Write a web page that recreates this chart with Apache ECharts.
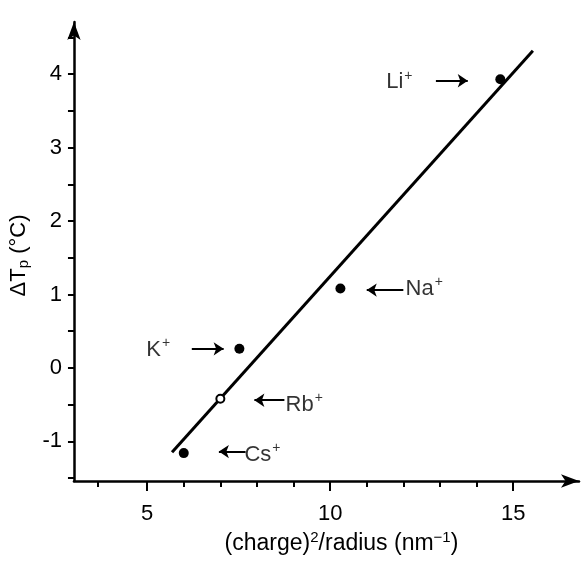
<!DOCTYPE html>
<html>
<head>
<meta charset="utf-8">
<script src="https://cdn.jsdelivr.net/npm/echarts@6/dist/echarts.min.js"></script>
<style>
  html, body { margin: 0; padding: 0; background: #fff; }
  #chartID { width: 587px; height: 575px; }
</style>
</head>
<body>
<div id="chartID"></div>
<script>
var ionChart = echarts.init(document.getElementById('chartID'));

// measured points
const ions = ['Li', 'Na', 'K', 'Rb', 'Cs'];
const chargeRadius = [14.65, 10.28, 7.52, 7.0, 6.0];
const deltaTp = [3.93, 1.08, 0.26, -0.42, -1.16];
const openPoint = [false, false, false, true, false];

// fitted straight line, ends
const fitX = [5.68, 15.54];
const fitY = [-1.15, 4.32];

// ion name placement (data units)
const labelX = [11.89, 12.57, 5.30, 9.29, 8.15];
const labelY = [3.89, 1.08, 0.25, -0.50, -1.18];

// little pointer arrows: tail -> head
const arrowTailX = [12.89, 12.0, 6.22, 8.75, 7.69];
const arrowHeadX = [13.76, 11.0, 7.09, 7.93, 6.96];
const arrowY = [3.91, 1.06, 0.26, -0.44, -1.14];

// axis ticks
const xMajorTicks = [5, 10, 15];
const xMinorTicks = [3.65, 6, 7, 8, 9, 11, 12, 13, 14];
const yTicks = [-1.5, -1, -0.5, 0, 0.5, 1, 1.5, 2, 2.5, 3, 3.5, 4, 4.5];
const yLabels = [-1, 0, 1, 2, 3, 4];

var FONT = 'Liberation Sans';

var filledData = [], openData = [], nameData = [], arrowData = [];
ions.forEach(function (ion, i) {
    if (openPoint[i]) openData.push([chargeRadius[i], deltaTp[i]]);
    else filledData.push([chargeRadius[i], deltaTp[i]]);
    nameData.push({ value: [labelX[i], labelY[i]], name: ion });
    arrowData.push({ coords: [[arrowTailX[i], arrowY[i]], [arrowHeadX[i], arrowY[i]]] });
});

var option = {
    animation: false,
    grid: { left: 70, top: 22, width: 509, height: 459 },
    xAxis: [{
        type: 'value',
        min: 3,
        max: 16.8,
        splitLine: { show: false },
        axisLine: {
            onZero: false,
            lineStyle: { color: '#000', width: 2.5 },
            symbol: ['none', 'arrow'],
            symbolSize: [10, 18]
        },
        axisTick: { customValues: xMajorTicks, length: 10, lineStyle: { color: '#000', width: 2 } },
        axisLabel: { customValues: xMajorTicks, margin: 22, color: '#000', fontSize: 22, fontFamily: FONT },
        name: '(charge){sup|2}/radius (nm{sup|−1})',
        nameLocation: 'middle',
        nameGap: 46,
        nameTextStyle: {
            color: '#000', fontSize: 23, fontFamily: FONT, padding: [0, 0, 0, 30],
            rich: { sup: { fontSize: 15, fontFamily: FONT, color: '#000', padding: [0, 0, 13, 0] } }
        }
    }, {
        type: 'value',
        position: 'bottom',
        min: 3,
        max: 16.8,
        splitLine: { show: false },
        axisLine: { show: false, onZero: false },
        axisTick: { customValues: xMinorTicks, length: 6, lineStyle: { color: '#000', width: 2 } },
        axisLabel: { show: false }
    }],
    yAxis: {
        type: 'value',
        min: -1.54,
        max: 4.71,
        splitLine: { show: false },
        axisLine: {
            onZero: false,
            lineStyle: { color: '#000', width: 2.5 },
            symbol: ['none', 'arrow'],
            symbolSize: [10, 18]
        },
        axisTick: { customValues: yTicks, length: 6, lineStyle: { color: '#000', width: 2 } },
        axisLabel: { customValues: yLabels, margin: 12, color: '#000', fontSize: 22, fontFamily: FONT },
        name: 'ΔT{sub|p} (°C)',
        nameLocation: 'middle',
        nameGap: 26,
        nameTextStyle: {
            color: '#000', fontSize: 22, fontFamily: FONT, padding: [0, 8, 0, 0],
            rich: { sub: { fontSize: 15, fontFamily: FONT, color: '#000', padding: [10, 0, 0, 0] } }
        }
    },
    series: [{
        type: 'line',
        data: [[fitX[0], fitY[0]], [fitX[1], fitY[1]]],
        showSymbol: false,
        lineStyle: { color: '#000', width: 3 },
        z: 2
    }, {
        type: 'scatter',
        data: filledData,
        symbol: 'circle',
        symbolSize: 10,
        itemStyle: { color: '#000', opacity: 1 },
        z: 3
    }, {
        type: 'scatter',
        data: openData,
        symbol: 'circle',
        symbolSize: 8,
        itemStyle: { color: '#fff', borderColor: '#000', borderWidth: 2, opacity: 1 },
        z: 3
    }, {
        type: 'lines',
        coordinateSystem: 'cartesian2d',
        data: arrowData,
        symbol: ['none', 'arrow'],
        symbolSize: [7, 10],
        lineStyle: { color: '#000', width: 2, opacity: 1 },
        z: 3
    }, {
        type: 'scatter',
        data: nameData,
        symbolSize: 1,
        itemStyle: { color: 'rgba(0,0,0,0)' },
        label: {
            show: true,
            position: 'inside',
            formatter: function (p) { return '{a|' + p.name + '}{s|+}'; },
            rich: {
                a: { fontSize: 22, fontFamily: FONT, color: '#000' },
                s: { fontSize: 14, fontFamily: FONT, color: '#000', padding: [0, 0, 12, 1] }
            }
        },
        z: 4
    }]
};

ionChart.setOption(option);
</script>
</body>
</html>
